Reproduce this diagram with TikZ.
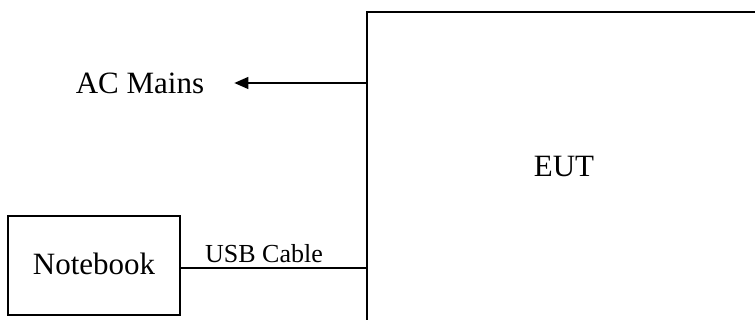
\documentclass[tikz,border=0pt]{standalone}
\usepackage{fontspec}
\setmainfont{Liberation Serif}
\usetikzlibrary{arrows.meta}
\begin{document}
\begin{tikzpicture}[x=1pt,y=1pt,
  boxstyle/.style={draw, line width=1.8pt, inner sep=0pt, font=\fontsize{31}{36}\selectfont},
  wire/.style={line width=1.4pt},
  lbl/.style={inner sep=0pt, font=\fontsize{31}{36}\selectfont},
  smalllbl/.style={inner sep=0pt, font=\fontsize{26}{30}\selectfont}]
\useasboundingbox (0,0) rectangle (755,320);
\clip (0,0) rectangle (755,320);
\node[boxstyle, minimum width=394pt, minimum height=310pt] (eut) at (564,153) {EUT};
\node[boxstyle, minimum width=172pt, minimum height=99pt] (nb) at (94,54.5) {\raisebox{4pt}{Notebook}};
\node[lbl] (ac) at (140,237) {AC Mains};
\node[smalllbl, anchor=base] (usb) at (264,57) {USB Cable};
\coordinate (tip) at ([xshift=30pt]ac.east);
\draw[wire, -{Triangle[length=14pt,width=12pt]}] (eut.west |- ac) -- (tip);
\draw[wire] ([yshift=-2.5pt]nb.east) -- ([yshift=-2.5pt]nb.east -| eut.west);
\end{tikzpicture}
\end{document}
